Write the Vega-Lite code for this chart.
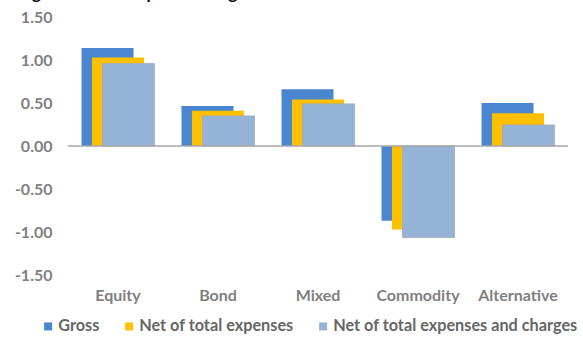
{
  "$schema": "https://vega.github.io/schema/vega-lite/v6.json",
  "width": 500,
  "height": 258,
  "autosize": {"type": "none"},
  "padding": {"left": 68, "top": 17, "right": 15, "bottom": 63},
  "background": "white",
  "config": {"view": {"stroke": null}},
  "title": {
    "text": "Figure 3: Total expense charges reduce returns",
    "anchor": "start",
    "frame": "group",
    "dx": -50,
    "offset": 6.5,
    "font": "Lato",
    "fontSize": 17,
    "fontWeight": "bold",
    "color": "#000000"
  },
  "data": {
    "values": [
      {"category": "Equity", "series": "Gross", "value": 1.14},
      {"category": "Equity", "series": "Net of total expenses", "value": 1.03},
      {"category": "Equity", "series": "Net of total expenses and charges", "value": 0.96},
      {"category": "Bond", "series": "Gross", "value": 0.465},
      {"category": "Bond", "series": "Net of total expenses", "value": 0.41},
      {"category": "Bond", "series": "Net of total expenses and charges", "value": 0.35},
      {"category": "Mixed", "series": "Gross", "value": 0.66},
      {"category": "Mixed", "series": "Net of total expenses", "value": 0.54},
      {"category": "Mixed", "series": "Net of total expenses and charges", "value": 0.49},
      {"category": "Commodity", "series": "Gross", "value": -0.87},
      {"category": "Commodity", "series": "Net of total expenses", "value": -0.97},
      {"category": "Commodity", "series": "Net of total expenses and charges", "value": -1.065},
      {"category": "Alternative", "series": "Gross", "value": 0.5},
      {"category": "Alternative", "series": "Net of total expenses", "value": 0.38},
      {"category": "Alternative", "series": "Net of total expenses and charges", "value": 0.245}
    ]
  },
  "encoding": {
    "x": {
      "field": "category",
      "type": "nominal",
      "sort": ["Equity", "Bond", "Mixed", "Commodity", "Alternative"],
      "scale": {"paddingInner": 0, "paddingOuter": 0},
      "axis": {
        "title": null,
        "domain": false,
        "ticks": false,
        "labelAngle": 0,
        "labelFont": "Lato",
        "labelFontSize": 16,
        "labelFontWeight": "bold",
        "labelColor": "#7f7f7f",
        "labelPadding": 12
      }
    },
    "y": {
      "field": "value",
      "type": "quantitative",
      "scale": {"domain": [-1.5, 1.5], "nice": false, "zero": false},
      "axis": {
        "title": null,
        "domain": false,
        "ticks": false,
        "grid": false,
        "values": [-1.5, -1, -0.5, 0, 0.5, 1, 1.5],
        "format": ".2f",
        "labelExpr": "replace(datum.label, '\u2212', '-')",
        "labelFont": "Lato",
        "labelFontSize": 16,
        "labelFontWeight": "bold",
        "labelColor": "#808080",
        "labelPadding": 16
      }
    },
    "color": {
      "field": "series",
      "type": "nominal",
      "scale": {
        "domain": ["Gross", "Net of total expenses", "Net of total expenses and charges"],
        "range": ["#4a86cf", "#ffc000", "#95b3d7"]
      },
      "legend": {
        "title": null,
        "orient": "none",
        "direction": "horizontal",
        "legendX": -28,
        "legendY": 301,
        "symbolType": "square",
        "symbolSize": 64,
        "symbolStrokeWidth": 0,
        "labelFont": "Lato",
        "labelFontSize": 16.25,
        "labelFontWeight": "bold",
        "labelColor": "#666666",
        "labelOffset": 2,
        "labelLimit": 400,
        "columnPadding": 21
      }
    }
  },
  "layer": [
    {
      "transform": [{"filter": "datum.series === 'Gross'"}],
      "mark": {"type": "bar", "width": 52, "xOffset": -10.5}
    },
    {
      "transform": [{"filter": "datum.series === 'Net of total expenses'"}],
      "mark": {"type": "bar", "width": 52, "xOffset": 0}
    },
    {
      "transform": [{"filter": "datum.series === 'Net of total expenses and charges'"}],
      "mark": {"type": "bar", "width": 52, "xOffset": 10.5, "stroke": "#a3abb5", "strokeWidth": 0.8}
    },
    {
      "data": {"values": [{"zero": 0}]},
      "mark": {"type": "rule", "color": "#a6a6a6", "strokeWidth": 1.5},
      "encoding": {
        "x": null,
        "color": null,
        "y": {"field": "zero", "type": "quantitative"}
      }
    }
  ]
}
